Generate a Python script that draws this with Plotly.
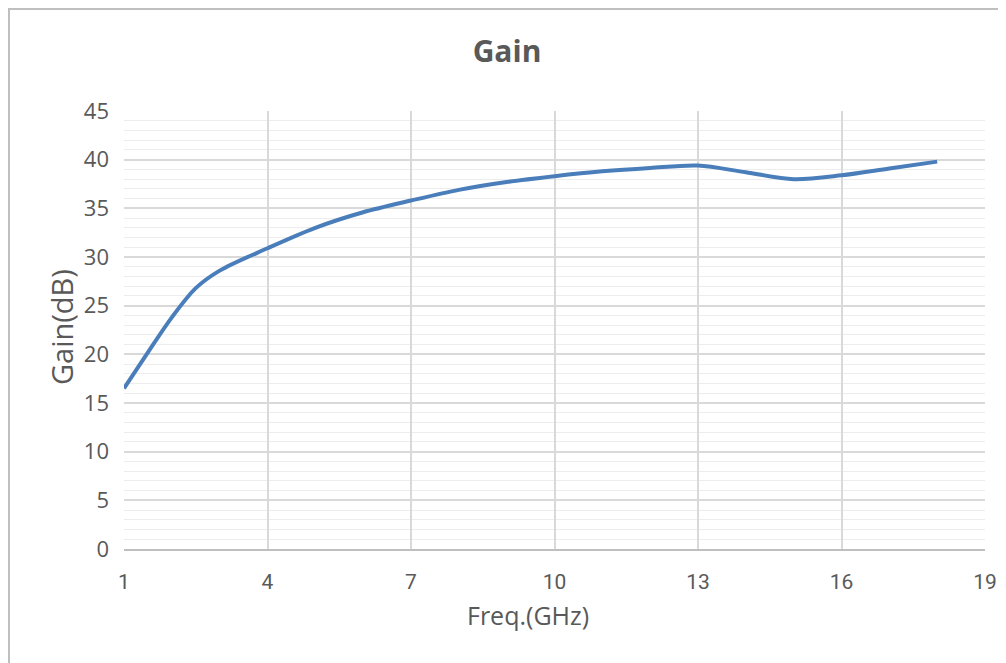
import plotly.graph_objects as go

freq_ghz = [1, 1.5, 2, 2.5, 3, 4, 5, 6, 7, 8, 9, 10, 11, 12, 13, 14, 15, 16, 17, 18]
gain_db = [16.5, 20.2, 23.8, 26.8, 28.6, 30.9, 33.0, 34.6, 35.8, 36.9, 37.7, 38.3, 38.8, 39.15, 39.4, 38.7, 38.0, 38.4, 39.1, 39.8]

x_ticks = [1, 4, 7, 10, 13, 16, 19]
y_ticks = [0, 5, 10, 15, 20, 25, 30, 35, 40, 45]

TXT = "#595959"
OFF = 8  # page body margin offset

W, H = 1006 - OFF, 663 - OFF
ML, MR, MT, MB = 124 - OFF, 21, 111 - OFF, 114

fig = go.Figure()
fig.add_trace(go.Scatter(
    x=freq_ghz, y=gain_db, mode="lines",
    line=dict(color="#4a7ebb", width=4, shape="spline", smoothing=0.9),
    hoverinfo="x+y", showlegend=False,
))

pw = W - ML - MR
ph = H - MT - MB
def px_x(px):
    return (px - OFF - ML) / pw
def px_y(py):
    return (H - MB - (py - OFF)) / ph

fig.update_layout(
    width=W, height=H,
    margin=dict(l=ML, r=MR, t=MT, b=MB, autoexpand=False),
    paper_bgcolor="white", plot_bgcolor="white",
    font=dict(family="Open Sans, DejaVu Sans, sans-serif", color=TXT, size=18),
    title=dict(text="<b>Gain</b>", x=0.5, xanchor="center", y=1 - (51 - OFF) / H, yanchor="middle",
               font=dict(size=30, color=TXT, family="Open Sans, sans-serif")),
    xaxis=dict(
        range=[1, 19], tickvals=x_ticks, ticktext=[str(v) for v in x_ticks],
        showgrid=True, gridcolor="#d9d9d9", gridwidth=1.5,
        showline=True, linecolor="#bfbfbf", linewidth=1.5,
        zeroline=False, ticks="", tickfont=dict(size=21, color=TXT, family="Liberation Sans Narrow, Roboto, sans-serif"),
        ticklabelstandoff=13,
    ),
    yaxis=dict(
        range=[0, 45], tickvals=y_ticks,
        showgrid=True, gridcolor="#d9d9d9", gridwidth=1.5,
        minor=dict(dtick=1, showgrid=True, gridcolor="#ededed", gridwidth=1),
        showline=False, zeroline=False, ticks="",
        tickfont=dict(size=22, color=TXT), ticklabelstandoff=14,
    ),
    annotations=[
        dict(text="Freq.(GHz)", xref="paper", yref="paper", x=px_x(528), y=px_y(615),
             xanchor="center", yanchor="middle", showarrow=False,
             font=dict(size=25, color=TXT)),
        dict(text="Gain(dB)", xref="paper", yref="paper", x=px_x(61), y=px_y(327),
             xanchor="center", yanchor="middle", showarrow=False, textangle=-90,
             font=dict(size=29, color=TXT)),
    ],
    shapes=[
        dict(type="rect", xref="paper", yref="paper",
             x0=px_x(OFF + 1), x1=px_x(1060), y0=px_y(720), y1=px_y(OFF + 1),
             line=dict(color="#bfbfbf", width=2), fillcolor="rgba(0,0,0,0)", layer="below"),
    ],
)

fig.write_html("out.html")
